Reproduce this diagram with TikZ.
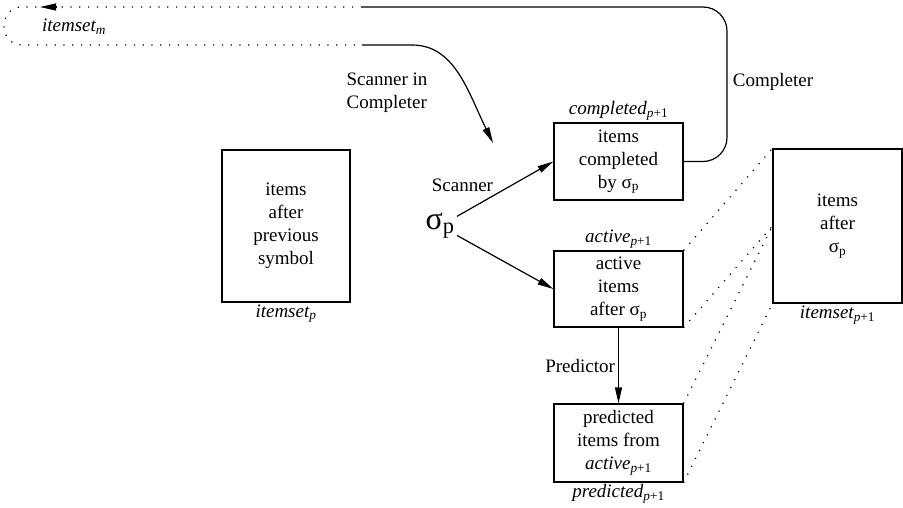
\documentclass[tikz,border=0pt]{standalone}
\usepackage{fontspec}
\setmainfont{Liberation Serif}
\usetikzlibrary{arrows.meta,positioning}

\begin{document}
\begin{tikzpicture}[x=1pt,y=-1pt,line width=1.2pt,font=\fontsize{19}{23}\selectfont]
  \tikzstyle{set}=[rectangle,draw,align=center,inner sep=0pt,minimum width=129pt]
  \tikzstyle{lbl}=[font=\fontsize{19}{23}\selectfont\itshape,inner sep=1.5pt]
  \tikzstyle{arr}=[-{Triangle[length=16pt,width=7pt]}]
  \tikzstyle{dots}=[dash pattern=on 1.2pt off 7.6pt]
  \useasboundingbox (0,0) rectangle (903,508);
  % item sets
  \node[set,minimum width=128pt,minimum height=152pt] (prev) at (286,226) {items\\after\\previous\\symbol};
  \node[set,minimum height=77pt] (compl) at (618.5,161.5) {items\\completed\\by σ\textsubscript{p}};
  \node[set,minimum height=76pt] (act) at (618.5,289) {active\\items\\after σ\textsubscript{p}};
  \node[set,minimum height=78pt] (pred) at (618.5,443) {predicted\\items from\\\textit{active}\textsubscript{\textit{p}+1}};
  \node[set,minimum height=154pt] (next) at (837.5,226) {items\\after\\σ\textsubscript{p}};
  \node[inner sep=2pt] (sig) at (440,226) {\fontsize{32}{36}\selectfont σ\textsubscript{p}};
  % names of the sets
  \node[lbl,below=0pt of prev] (prevlbl) {itemset\textsubscript{p}};
  \node[lbl,above=0pt of compl] (compllbl) {completed\textsubscript{p\upshape+1}};
  \node[lbl,above=0pt of act] (actlbl) {active\textsubscript{p\upshape+1}};
  \node[lbl,below=0pt of pred] (predlbl) {predicted\textsubscript{p\upshape+1}};
  \node[lbl,below=0pt of next] (nextlbl) {itemset\textsubscript{p\upshape+1}};
  \node[lbl] (itm) at (74,27) {itemset\textsubscript{m}};
  \node[align=left] (sic) at (387,93) {Scanner in\\Completer};
  \node[anchor=west] (cpl) at (729,82) {Completer};
  % loop through itemset m
  \coordinate (topR) at (362,7);
  \coordinate (botR) at (362,45);
  \coordinate (scanend) at (493,143);
  \draw[rounded corners=24pt] (compl.east) -- (727,161.5) -- (727,7) -- (topR);
  \draw[dots] (topR) -- (22,7) .. controls (-2,7) and (-2,45) .. (22,45) -- (botR);
  \draw[arr] (57,7) -- (40,7);
  \draw[arr] (botR) -- (412,45) .. controls (455,45) and (468,92) .. (scanend);
  % scanner and predictor
  \draw[arr] (sig) -- node[above left,pos=0.4,inner sep=2pt] (scl) {Scanner} (compl.west);
  \draw[arr] (sig) -- (act.west);
  \draw[arr] (act) -- node[left,inner sep=3pt] (prl) {Predictor} (pred);
  % into the next item set
  \draw[dots] (act.north east) -- (next.north west);
  \draw[dots] (act.south east) -- (next.west);
  \draw[dots] (pred.north east) -- (next.west);
  \draw[dots] (pred.south east) -- (next.south west);
\end{tikzpicture}
\end{document}
